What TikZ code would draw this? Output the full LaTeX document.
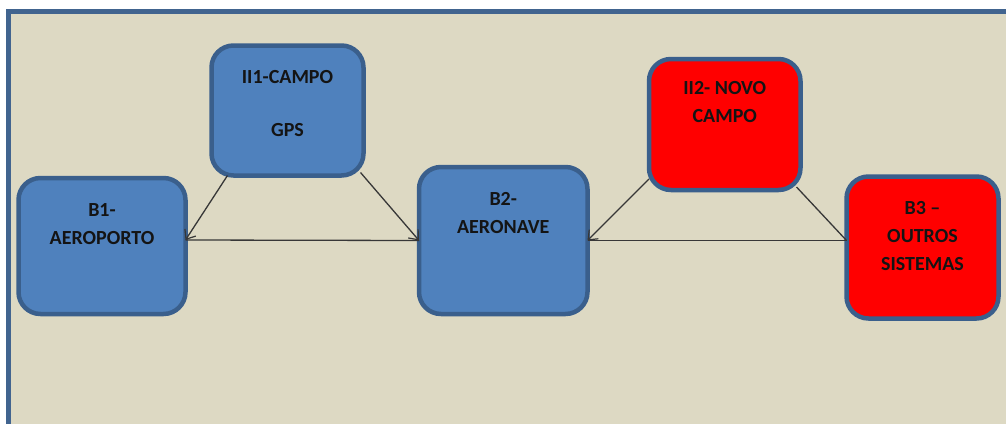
\documentclass[tikz,border=0pt]{standalone}
\usepackage{fontspec}
\setmainfont{Carlito}
\usetikzlibrary{arrows.meta}
\definecolor{panel}{HTML}{DDD9C3}
\definecolor{frameblue}{HTML}{41648F}
\definecolor{boxblue}{HTML}{4F81BD}
\definecolor{edgeblue}{HTML}{3A5F8C}
\definecolor{alertred}{HTML}{FF0000}
\definecolor{ink}{HTML}{141414}
\tikzset{
  box/.style={rectangle, rounded corners=22pt, line width=4.5pt, draw=edgeblue,
              outer sep=0pt, inner sep=0pt},
  bluebox/.style={box, fill=boxblue},
  redbox/.style={box, fill=alertred},
  lbl/.style={anchor=north, align=center, inner sep=0pt, text=ink,
              font=\bfseries\fontsize{20}{28}\selectfont},
  link/.style={draw=ink!85, line width=1.3pt},
  arrow/.style={link, -{Straight Barb[length=8pt,width=13pt,line width=1.2pt]}}
}
\begin{document}
\begin{tikzpicture}[x=1pt,y=-1pt]
  \useasboundingbox (0,0) rectangle (1006,423);
  \fill[white] (0,0) rectangle (1006,423);
  % framed panel, running past the right and bottom edges
  \draw[fill=panel, draw=frameblue, line width=5.5pt] (8.7,11.7) rectangle (1030,445);

  % boxes
  \node[bluebox, minimum width=152pt, minimum height=130pt] (ii1) at (287.5,110.5) {};
  \node[bluebox, minimum width=167pt, minimum height=136pt] (b1)  at (102,246) {};
  \node[bluebox, minimum width=168.5pt, minimum height=147pt] (b2) at (503.25,240.5) {};
  \node[redbox,  minimum width=151.5pt, minimum height=131pt] (ii2) at (724.75,124.5) {};
  \node[redbox,  minimum width=152pt, minimum height=142pt] (b3) at (922.5,247.5) {};

  % labels
  \node[lbl] (ii1t) at ([yshift=-25pt]ii1.north) {II1-CAMPO\\[25pt]GPS};
  \node[lbl] (b1t)  at ([yshift=-25.5pt]b1.north) {B1-\\AEROPORTO};
  \node[lbl] (b2t)  at ([yshift=-25.5pt]b2.north) {B2-\\AERONAVE};
  \node[lbl] (ii2t) at ([yshift=-22.5pt]ii2.north) {II2- NOVO\\CAMPO};
  \node[lbl] (b3t)  at ([yshift=-25pt]b3.north) {B3 –\\OUTROS\\SISTEMAS};

  % connectors
  \coordinate (b1in) at ([yshift=6pt]b1.east);
  \coordinate (b3out) at ([yshift=7pt]b3.west);
  \draw[arrow] ([xshift=16pt]ii1.south west) -- (b1in);
  \draw[arrow] ([xshift=-3pt,yshift=3pt]ii1.south east) -- (b2.west);
  \draw[link] (b1in) -- (b2.west);
  \draw[arrow] ([yshift=11pt]ii2.south west) -- (b2.east);
  \draw[link] ([xshift=-4pt,yshift=3pt]ii2.south east) -- (b3out);
  \draw[link] (b3out) -- (b2.east);
\end{tikzpicture}
\end{document}
